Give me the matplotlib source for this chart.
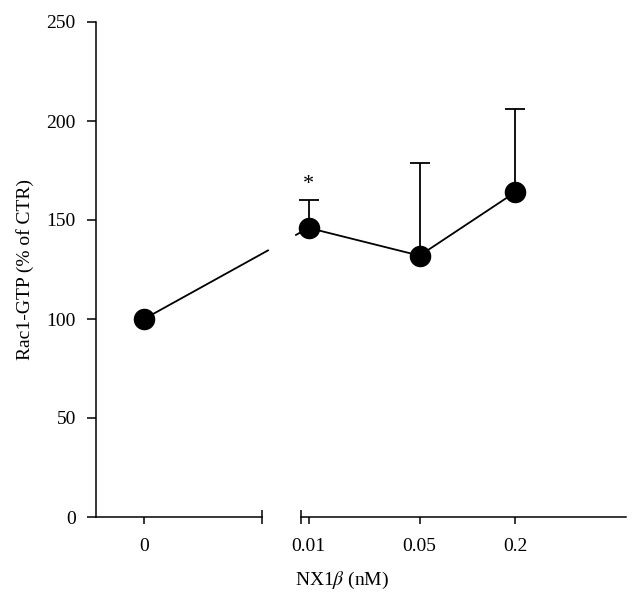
import numpy as np
import matplotlib
matplotlib.use("Agg")
import matplotlib.pyplot as plt

# data
dose_labels = ["0", "0.01", "0.05", "0.2"]
dose_right = [0.01, 0.05, 0.2]
mean_ctrl = 100
mean_right = [146, 132, 164]
err_right = [14, 47, 42]
yticks = [0, 50, 100, 150, 200, 250]

plt.rcParams["font.family"] = ["Liberation Serif", "DejaVu Serif"]
plt.rcParams["mathtext.fontset"] = "stix"

W, H = 640, 601
fig = plt.figure(figsize=(W / 100, H / 100), dpi=100)

def box(x0, x1, ytop, ybot):
    return [x0 / W, 1 - ybot / H, (x1 - x0) / W, (ybot - ytop) / H]

ax1 = fig.add_axes(box(96, 262, 22, 517))
ax2 = fig.add_axes(box(301, 626, 22, 517))

lw = 1.1
for ax in (ax1, ax2):
    ax.set_ylim(0, 250)
    for s in ("top", "right"):
        ax.spines[s].set_visible(False)
    ax.spines["bottom"].set_linewidth(lw)
    ax.spines["left"].set_linewidth(lw)
    ax.tick_params(width=lw, length=5, labelsize=14, colors="black")
    ax.patch.set_alpha(0)

ax1.set_xlim(-1, (166 - 48) / 48)
ax1.set_yticks(yticks)
ax1.tick_params(axis="y", length=6.5, pad=8)
ax1.set_xticks([0])
ax1.set_xticklabels([dose_labels[0]])
ax1.tick_params(axis="x", pad=10)

ax2.set_xscale("log")
ax2.set_xlim(0.00895, 1.0)
ax2.spines["left"].set_visible(False)
ax2.set_yticks([])
ax2.set_xticks(dose_right)
ax2.set_xticklabels(dose_labels[1:])
ax2.minorticks_off()
ax2.tick_params(axis="x", which="minor", length=0)
ax2.tick_params(axis="x", pad=10)

# break caps on x axis
ax1.plot([1], [0], marker="|", ms=10, mew=lw, color="black",
         transform=ax1.transAxes, clip_on=False)
ax2.plot([0], [0], marker="|", ms=10, mew=lw, color="black",
         transform=ax2.transAxes, clip_on=False)

msz = 14.5
ax1.plot([0], [mean_ctrl], "o", color="black", ms=msz, clip_on=False, zorder=5)
ax2.errorbar(dose_right, mean_right, yerr=[np.zeros(3), err_right], fmt="o-",
             color="black", ms=msz, lw=1.3, elinewidth=1.3, capsize=7.5,
             capthick=1.3, clip_on=False, zorder=5)

# connecting line across the break, with a gap
fig.canvas.draw()
p0 = ax1.transData.transform((0, mean_ctrl))
p1 = ax2.transData.transform((dose_right[0], mean_right[0]))
def at_x(xpix):
    t = (xpix - p0[0]) / (p1[0] - p0[0])
    return p0 + t * (p1 - p0)
inv = fig.transFigure.inverted()
for a, b in ((p0, at_x(268)), (at_x(296), p1)):
    fa, fb = inv.transform(a), inv.transform(b)
    fig.add_artist(plt.Line2D([fa[0], fb[0]], [fa[1], fb[1]], color="black", lw=1.3, zorder=1))

# significance
ax2.text(dose_right[0], mean_right[0] + err_right[0] + 3, "*", ha="center",
         va="bottom", fontsize=16)

ax1.set_ylabel("Rac1-GTP (% of CTR)", fontsize=14, labelpad=9)
fig.text(342 / W, 1 - 580 / H, r"NX1$\it{\beta}$ (nM)", ha="center", va="center", fontsize=14)

fig.savefig("out.png", dpi=100)
